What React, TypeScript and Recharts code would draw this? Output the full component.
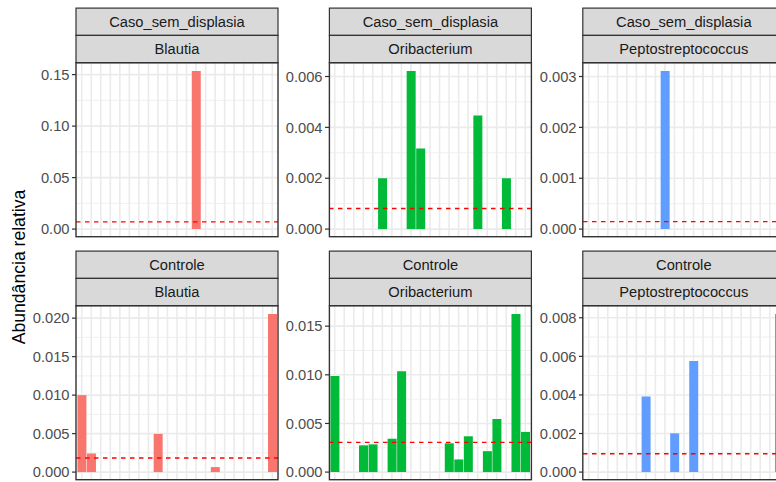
import React from 'react';
import { BarChart, Bar, XAxis, YAxis, CartesianGrid, ReferenceLine } from 'recharts';

// sample positions on the (hidden) x axis
const sampleIds = [1, 2, 3, 4, 5, 6, 7, 8, 9, 10, 11, 12, 13, 14, 15, 16, 17, 18, 19, 20, 21];

const groups = ['Caso_sem_displasia', 'Controle'];
const genera = ['Blautia', 'Oribacterium', 'Peptostreptococcus'];
const genusColors = ['#F8766D', '#00BA38', '#619CFF'];

// relative abundance per sample
const casoBlautia = [0, 0, 0, 0, 0, 0, 0, 0, 0, 0, 0, 0, 0.1536, 0, 0, 0, 0, 0, 0, 0, 0];
const casoOribacterium = [0, 0, 0, 0, 0, 0.002, 0, 0, 0.00622, 0.00317, 0, 0, 0, 0, 0, 0.00447, 0, 0, 0.002, 0, 0];
const casoPeptostreptococcus = [0, 0, 0, 0, 0, 0, 0, 0, 0.00311, 0, 0, 0, 0, 0, 0, 0, 0, 0, 0, 0, 0];
const controleBlautia = [0.01, 0.00242, 0, 0, 0, 0, 0, 0, 0.00496, 0, 0, 0, 0, 0, 0.00065, 0, 0, 0, 0, 0, 0.02055];
const controleOribacterium = [0.00989, 0, 0, 0.00275, 0.00285, 0, 0.00343, 0.01037, 0, 0, 0, 0, 0.00296, 0.0013, 0.00368, 0, 0.00215, 0.00546, 0, 0.01626, 0.00413];
const controlePeptostreptococcus = [0, 0, 0, 0, 0, 0, 0.00392, 0, 0, 0.00201, 0, 0.00576, 0, 0, 0, 0, 0, 0, 0, 0, 0.0082];

// dashed reference line (mean) per panel
const casoThresholds = [0.007, 0.00081, 0.000145];
const controleThresholds = [0.00183, 0.00305, 0.00095];

// y tick labels per panel
const casoTicks = [[0, 0.05, 0.1, 0.15], [0, 0.002, 0.004, 0.006], [0, 0.001, 0.002, 0.003]];
const controleTicks = [[0, 0.005, 0.01, 0.015, 0.02], [0, 0.005, 0.01, 0.015], [0, 0.002, 0.004, 0.006, 0.008]];
const casoDecimals = [2, 3, 3];
const controleDecimals = [3, 3, 3];

const AXIS_W = 76;
const PANEL_W = 202;
const PANEL_H = 174;
const STRIP_H = 27.3;
const colLefts = [76, 329.4, 582.8];
const rowTops = [62.7, 305.7];
const FONT = '"Liberation Sans", Arial, sans-serif';

const rows = [
  { values: [casoBlautia, casoOribacterium, casoPeptostreptococcus], thresholds: casoThresholds, ticks: casoTicks, decimals: casoDecimals },
  { values: [controleBlautia, controleOribacterium, controlePeptostreptococcus], thresholds: controleThresholds, ticks: controleTicks, decimals: controleDecimals },
];

type PanelProps = {
  left: number;
  top: number;
  values: number[];
  threshold: number;
  ticks: number[];
  decimals: number;
  color: string;
};

const NoTick = () => <g />;

const Panel: React.FC<PanelProps> = ({ left, top, values, threshold, ticks, decimals, color }) => {
  const data = sampleIds.map((id, i) => ({ sample: id, value: values[i] }));
  const maxVal = Math.max(threshold, ...values);
  const domain = [-0.05 * maxVal, 1.05 * maxVal];
  const minor = ticks.slice(1).map((t, i) => (t + ticks[i]) / 2);

  return (
    <div style={{ position: 'absolute', left: left - AXIS_W, top }}>
      <BarChart
        width={AXIS_W + PANEL_W}
        height={PANEL_H}
        data={data}
        margin={{ top: 0, right: 0, bottom: 0, left: 0 }}
        barCategoryGap="5%"
      >
        <CartesianGrid vertical={false} horizontalValues={minor} stroke="#EEEEEE" strokeWidth={0.9} />
        <CartesianGrid horizontalValues={ticks} verticalValues={sampleIds} stroke="#EBEBEB" strokeWidth={1.6} />
        <XAxis
          type="number"
          dataKey="sample"
          domain={[0.4, 21.6]}
          ticks={sampleIds}
          interval={0}
          tick={NoTick}
          tickLine={false}
          axisLine={false}
          height={0}
        />
        <YAxis
          type="number"
          domain={domain}
          ticks={ticks}
          interval={0}
          width={AXIS_W}
          tickFormatter={(v: number) => v.toFixed(decimals)}
          tick={{ fill: '#4D4D4D', fontSize: 14.7 }}
          tickLine={{ stroke: '#333333', strokeWidth: 1.2 }}
          tickSize={4}
          tickMargin={2.5}
          axisLine={false}
        />
        <Bar dataKey="value" fill={color} isAnimationActive={false} />
        <ReferenceLine y={threshold} stroke="#FF0000" strokeWidth={1.3} strokeDasharray="4.5 4.5" />
      </BarChart>
    </div>
  );
};

const App: React.FC = () => {
  return (
    <div
      style={{
        position: 'absolute',
        left: 0,
        top: 0,
        width: 776,
        height: 482,
        overflow: 'hidden',
        background: '#FFFFFF',
        fontFamily: FONT,
      }}
    >
      {rows.map((row, r) =>
        genera.map((g, c) => (
          <Panel
            key={`${r}-${c}`}
            left={colLefts[c]}
            top={rowTops[r]}
            values={row.values[c]}
            threshold={row.thresholds[c]}
            ticks={row.ticks[c]}
            decimals={row.decimals[c]}
            color={genusColors[c]}
          />
        ))
      )}

      {/* strips, panel borders and axis title */}
      <svg width={776} height={482} style={{ position: 'absolute', left: 0, top: 0, pointerEvents: 'none' }}>
        {groups.map((grp, r) =>
          genera.map((g, c) => {
            const x = colLefts[c];
            const y = rowTops[r];
            return (
              <g key={`s-${r}-${c}`}>
                <rect x={x} y={y - 2 * STRIP_H} width={PANEL_W} height={STRIP_H} fill="#D9D9D9" stroke="#333333" strokeWidth={1.2} />
                <rect x={x} y={y - STRIP_H} width={PANEL_W} height={STRIP_H} fill="#D9D9D9" stroke="#333333" strokeWidth={1.2} />
                <text x={x + PANEL_W / 2} y={y - 1.5 * STRIP_H} textAnchor="middle" dominantBaseline="central" fontSize={14.7} fill="#1A1A1A" fontFamily={FONT}>
                  {grp}
                </text>
                <text x={x + PANEL_W / 2} y={y - 0.5 * STRIP_H} textAnchor="middle" dominantBaseline="central" fontSize={14.7} fill="#1A1A1A" fontFamily={FONT}>
                  {g}
                </text>
                <rect x={x} y={y} width={PANEL_W} height={PANEL_H} fill="none" stroke="#333333" strokeWidth={1.4} />
              </g>
            );
          })
        )}
        <text
          transform="rotate(-90)"
          x={-267}
          y={19}
          textAnchor="middle"
          dominantBaseline="central"
          fontSize={17.6}
          fill="#000000"
          fontFamily={FONT}
        >
          Abundância relativa
        </text>
      </svg>
    </div>
  );
};

export default App;
